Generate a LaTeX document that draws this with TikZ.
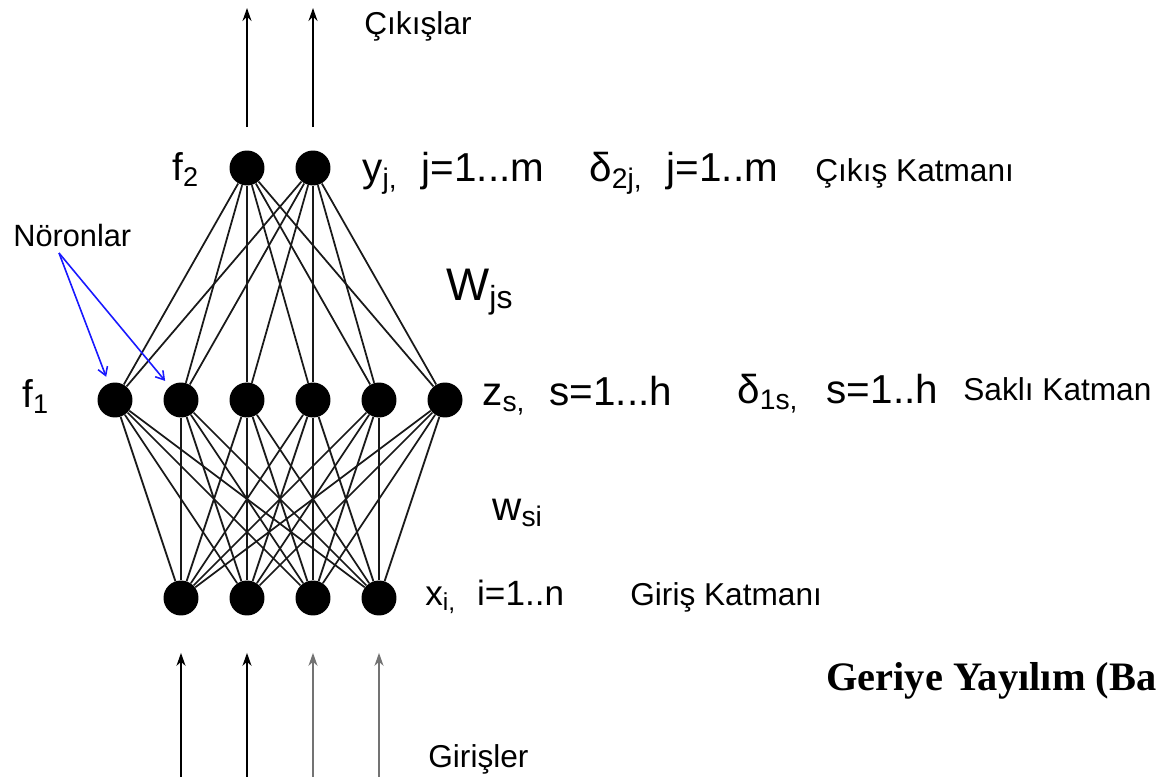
\documentclass[tikz,border=0pt]{standalone}
\usepackage{fontspec}
\setmainfont{Liberation Sans}
\newfontfamily\titlefont{Liberation Serif}
\usetikzlibrary{arrows.meta}

\begin{document}
\begin{tikzpicture}[
    x=0.02cm, y=-0.02cm,
    neuron/.style={circle, fill=black, inner sep=0pt, minimum size=0.7cm},
    link/.style={black!90, line width=1pt},
    flow/.style={-{Stealth[length=2.6mm, width=1.8mm]}, line width=1.2pt},
    pointer/.style={-{Straight Barb[length=1.6mm, width=2mm]}, blue!90, line width=0.9pt, shorten >=0.14cm},
    small/.style={anchor=base west, inner sep=0pt, font=\fontsize{18}{20}\selectfont},
    big/.style={anchor=base west, inner sep=0pt, font=\fontsize{23}{26}\selectfont}
]
\useasboundingbox (0,0) rectangle (1157,777);
\clip (0,0) rectangle (1157,777);

% layers
\node[neuron] (o1) at (247,168) {};
\node[neuron] (o2) at (313,168) {};
\foreach \k/\x in {1/115,2/181,3/247,4/313,5/379,6/445}
    \node[neuron] (h\k) at (\x,400) {};
\foreach \k/\x in {1/181,2/247,3/313,4/379}
    \node[neuron] (i\k) at (\x,598) {};

% weights
\foreach \a in {1,...,6}{
    \foreach \b in {1,2} \draw[link] (h\a) -- (o\b);
    \foreach \b in {1,...,4} \draw[link] (h\a) -- (i\b);
}

% outputs and inputs
\coordinate (out1) at (247,8);
\coordinate (out2) at (313,8);
\draw[flow, shorten <=0.46cm] (o1) -- (out1);
\draw[flow, shorten <=0.46cm] (o2) -- (out2);
\foreach \k/\x/\c in {1/181/black,2/247/black,3/313/black!55,4/379/black!55}{
    \coordinate (in\k) at (\x,777);
    \draw[flow, \c, shorten >=0.74cm] (in\k) -- (i\k);
}

% labels
\node[small] (outs) at (364,35) {Çıkışlar};
\node[big, font=\fontsize{22}{24}\selectfont] (ftwo) at (172,180) {f\textsubscript{2}};
\node[big] (ylab) at (362,182) {y\textsubscript{j,}\hspace{0.6em}j=1...m};
\node[big] (dtwo) at (589,182) {δ\textsubscript{2j,}\hspace{0.6em}j=1..m};
\node[small] (outlayer) at (815,181) {Çıkış Katmanı};
\node[small, font=\fontsize{17.5}{20}\selectfont] (noron) at (13,246) {Nöronlar};
\node[big, font=\fontsize{26}{28}\selectfont] (wjs) at (446,300) {W\textsubscript{js}};
\node[big, font=\fontsize{22}{24}\selectfont] (fone) at (22,407) {f\textsubscript{1}};
\node[big] (zlab) at (482,405) {z\textsubscript{s,}\hspace{0.6em}s=1...h};
\node[big] (done) at (737,403) {δ\textsubscript{1s,}\hspace{0.7em}s=1..h};
\node[small] (hidlayer) at (963,400) {Saklı Katman};
\node[big] (wsi) at (492,520) {w\textsubscript{si}};
\node[big, font=\fontsize{20}{22}\selectfont] (xlab) at (425,605) {x\textsubscript{i,}\hspace{0.6em}i=1..n};
\node[small] (inlayer) at (630,605) {Giriş Katmanı};
\node[small] (ins) at (428,767) {Girişler};
\node[anchor=base west, inner sep=0pt, font=\titlefont\bfseries\fontsize{23}{26}\selectfont] (title) at (826,690) {Geriye Yayılım (Ba};

% neuron pointers
\coordinate (nor) at (59,253);
\draw[pointer] (nor) -- (h1);
\draw[pointer] (nor) -- (h2);
\end{tikzpicture}
\end{document}
